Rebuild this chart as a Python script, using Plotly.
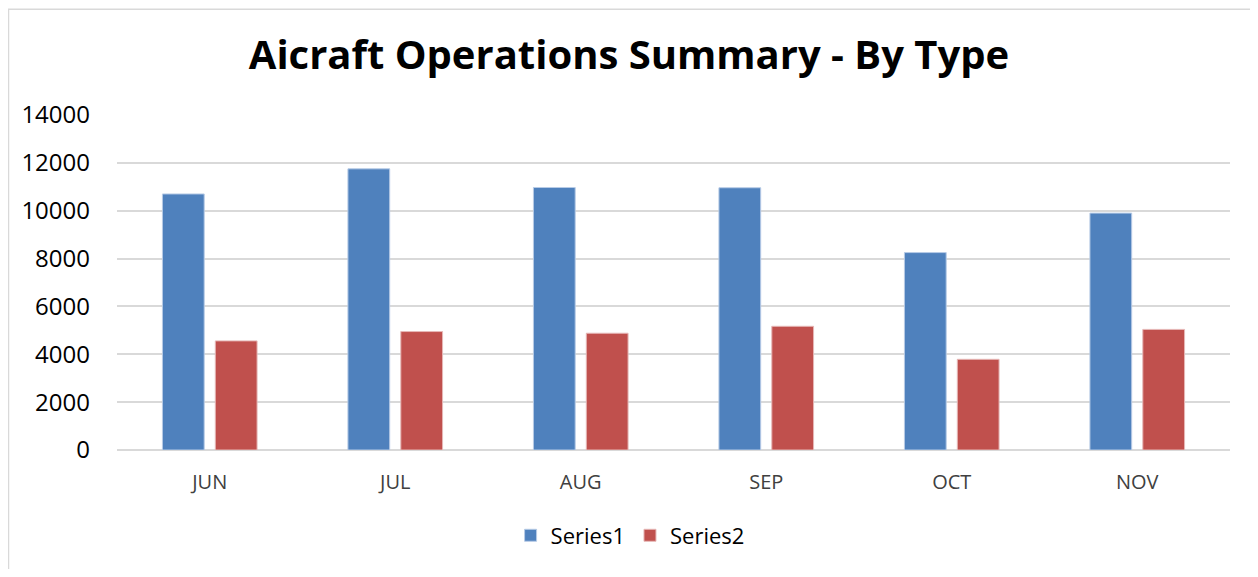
import plotly.graph_objects as go

months = ["JUN", "JUL", "AUG", "SEP", "OCT", "NOV"]
series1 = [10700, 11750, 10970, 10960, 8250, 9900]
series2 = [4560, 4950, 4880, 5170, 3790, 5040]
y_ticks = [0, 2000, 4000, 6000, 8000, 10000, 12000, 14000]

# page has an 8px body margin, so the figure is drawn 16px smaller
OFF = 8
W, H = 1258 - 2 * OFF, 577 - 2 * OFF
# plot area in screen coordinates: x 117..1230, y 115..452
L = 117 - OFF
R = W - (1230 - OFF)
T = 115 - OFF
B = H - (452 - OFF)

fig = go.Figure()
fig.add_trace(go.Bar(x=months, y=series1, name="Series1",
                     marker=dict(color="#4F81BD", line=dict(color="#B7CBE6", width=1))))
fig.add_trace(go.Bar(x=months, y=series2, name="Series2",
                     marker=dict(color="#C0504D", line=dict(color="#E6B8B7", width=1))))

pw = W - L - R
ph = H - T - B
def px(x):
    return (x - OFF - L) / pw
def py(y):
    return (H - B - (y - OFF)) / ph

fig.update_layout(
    width=W, height=H,
    margin=dict(l=L, r=R, t=T, b=B),
    paper_bgcolor="white", plot_bgcolor="white",
    barmode="group", bargap=0.43, bargroupgap=0.21,
    title=dict(text="<b>Aicraft Operations Summary - By Type</b>",
               x=0.5, xanchor="center", y=1 - (55 - OFF) / H, yanchor="middle",
               font=dict(family="Open Sans", size=40, color="black")),
    font=dict(family="Open Sans", color="black"),
    xaxis=dict(showgrid=False, showline=False, ticks="",
               tickfont=dict(size=20, color="#404040"), ticklabelstandoff=18),
    yaxis=dict(range=[0, 14000], tickvals=y_ticks, tickformat="d", showgrid=True,
               gridcolor="#D9D9D9", gridwidth=1.5, zeroline=True,
               zerolinecolor="#D9D9D9", zerolinewidth=1.5, showline=False,
               tickfont=dict(size=24, color="black"), ticklabelstandoff=26),
    legend=dict(orientation="h", x=0.461, xanchor="center", y=py(538), yanchor="middle",
                font=dict(size=22, color="black"), itemwidth=30),
    showlegend=True,
    shapes=[dict(type="rect", xref="paper", yref="paper",
                 x0=px(8.5), x1=px(1257), y0=py(576), y1=py(8.5),
                 line=dict(color="#D9D9D9", width=1.5), fillcolor="rgba(0,0,0,0)",
                 layer="below")],
)

fig.write_html("out.html")
